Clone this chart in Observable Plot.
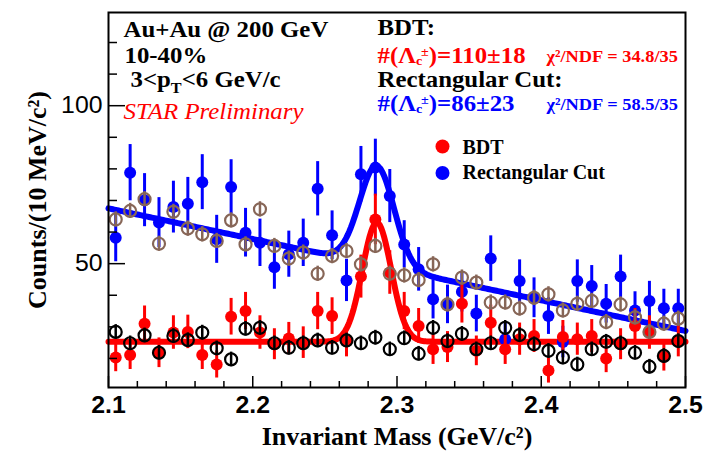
<!DOCTYPE html>
<html><head><meta charset="utf-8">
<script src="https://cdn.jsdelivr.net/npm/d3@7"></script>
<script src="https://cdn.jsdelivr.net/npm/@observablehq/plot@0.6"></script>
<style>body{margin:0;background:#fff}</style>
</head><body><div id="chart"></div>
<script>
// ---- data (bin centres, 10 MeV bins) ----
const mass = [2.105,2.115,2.125,2.135,2.145,2.155,2.165,2.175,2.185,2.195,
  2.205,2.215,2.225,2.235,2.245,2.255,2.265,2.275,2.285,2.295,
  2.305,2.315,2.325,2.335,2.345,2.355,2.365,2.375,2.385,2.395,
  2.405,2.415,2.425,2.435,2.445,2.455,2.465,2.475,2.485,2.495];
const bdtCounts = [20.3,21.1,31.0,21.8,28.2,28.4,21.1,18.1,33.2,35.0,28.2,24.5,26.3,25.0,35.0,33.4,25.5,45.9,64.0,47.2,
  35.0,30.3,22.9,23.6,37.3,22.4,31.3,22.9,26.1,27.1,16.2,26.8,26.1,27.1,20.0,24.5,30.3,28.2,20.5,25.5];
const bdtErr = [4.5,4.6,5.6,4.7,5.3,5.3,4.6,4.3,5.8,5.9,5.3,4.9,5.1,5.0,5.9,5.8,5.0,6.8,8.0,6.9,
  5.9,5.5,4.8,4.9,6.1,4.7,5.6,4.8,5.1,5.2,4.0,5.2,5.1,5.2,4.5,4.9,5.5,5.3,4.5,5.0];
const rectCounts = [58.2,78.8,70.1,63.0,67.9,69.0,75.8,57.7,74.3,59.8,56.6,48.9,53.0,56.6,73.7,59.0,44.7,78.3,80.4,71.4,
  56.1,48.2,38.7,37.1,41.1,34.2,51.6,26.1,44.5,39.2,33.4,25.2,44.5,42.9,37.3,45.9,35.2,38.2,35.9,35.9];
const rectErr = [7.6,8.9,8.4,7.9,8.2,8.3,8.7,7.6,8.6,7.7,7.5,7.0,7.3,7.5,8.6,7.7,6.7,8.8,9.0,8.4,
  7.5,6.9,6.2,6.1,6.4,5.8,7.2,5.1,6.7,6.3,5.8,5.0,6.7,6.5,6.1,6.8,5.9,6.2,6.0,6.0];
const rectBkgCounts = [64.0,66.7,70.4,56.3,66.4,61.1,59.3,57.2,63.7,56.1,67.2,55.6,51.6,53.5,46.8,52.4,54.0,49.8,55.6,46.8,
  46.3,44.8,49.8,37.1,45.6,44.0,37.7,37.7,35.8,39.2,40.3,35.2,37.3,38.2,31.5,37.1,33.0,28.4,31.0,32.6];
const rectBkgErr = 2.4;
const bdtBkgCounts = [28.4,24.8,27.3,21.8,27.1,25.8,28.2,23.2,19.7,29.4,29.7,24.8,23.4,24.8,25.7,23.4,25.7,24.8,26.6,22.9,
  26.4,21.5,29.7,25.5,27.8,22.9,24.8,29.7,27.4,24.5,22.4,20.3,18.1,22.9,25.3,24.8,21.8,17.4,20.8,25.5];
const bdtBkgErr = 2.3;

// fit parameters (gaussian + polynomial background)
const bdtFit = {base: 25.3, slope: 0, amp: 37.7, mu: 2.286, sigma: 0.0100};
const rectFit = {base: 67.5, slope: -97, amp: 31.5, mu: 2.286, sigma: 0.0120};

// axis ticks
const xMajor = [2.1,2.2,2.3,2.4,2.5];
const xMinor = [2.12,2.14,2.16,2.18,2.22,2.24,2.26,2.28,2.32,2.34,2.36,2.38,2.42,2.44,2.46,2.48];
const yMajor = [50,100];
const yMinor = [20,30,40,60,70,80,90,110,120];

const RED = "#ff0000", BLUE = "#0000ff", BROWN = "#876657";
const SERIF = "Liberation Serif", SANS = "Liberation Sans";
const ANN = 23;       // annotation font size
const ANN_SX = 1.08;  // horizontal stretch of annotation text (ROOT's wide Times rendering)

const pts = (counts, err) => mass.map((m,i)=>({m, v: counts[i], e: Array.isArray(err)? err[i] : err}));
const bdt = pts(bdtCounts, bdtErr), rect = pts(rectCounts, rectErr);
const rectBkg = pts(rectBkgCounts, rectBkgErr), bdtBkg = pts(bdtBkgCounts, bdtBkgErr);
const fitCurve = f => d3.range(2.1, 2.5001, 0.001).map(m => ({m,
  v: f.base + f.slope*(m-2.1) + f.amp*Math.exp(-0.5*((m-f.mu)/f.sigma)**2)}));

const W = 706, H = 452, ML = 108, MR = 21, MT = 12, MB = 65;
const PW = W-ML-MR, PH = H-MT-MB;

const txt = (s, x, y, o={}) => Plot.text([s], {text: d=>d, frameAnchor: "top-left", dx: x-ML, dy: y-MT,
  textAnchor: "start", lineAnchor: "bottom", fontFamily: SERIF, fontWeight: "bold", fontSize: ANN, fill: "black", ...o});

const errBars = (data, color, w) => Plot.ruleX(data, {x: "m", y1: d=>d.v-d.e, y2: d=>d.v+d.e, stroke: color, strokeWidth: w});

const chart = Plot.plot({
  width: W, height: H,
  marginLeft: ML, marginRight: MR, marginTop: MT, marginBottom: MB,
  style: {background: "#fff", overflow: "visible"},
  x: {domain: [2.1, 2.5], label: null},
  y: {domain: [10.8, 129.5], label: null},
  marks: [
    // fits
    Plot.line(fitCurve(rectFit), {x: "m", y: "v", stroke: BLUE, strokeWidth: 6}),
    Plot.line(fitCurve(bdtFit), {x: "m", y: "v", stroke: RED, strokeWidth: 6}),
    // filled points
    errBars(rect, BLUE, 3),
    Plot.dot(rect, {x: "m", y: "v", r: 6, fill: BLUE}),
    errBars(bdt, RED, 3),
    Plot.dot(bdt, {x: "m", y: "v", r: 6, fill: RED}),
    // open points
    errBars(rectBkg, BROWN, 2.5),
    Plot.dot(rectBkg, {x: "m", y: "v", r: 6, stroke: BROWN, strokeWidth: 2.2, fill: "none"}),
    errBars(bdtBkg, "black", 2.5),
    Plot.dot(bdtBkg, {x: "m", y: "v", r: 6, stroke: "black", strokeWidth: 2.2, fill: "none"}),
    // ticks (inside frame)
    Plot.ruleX(xMajor, {x: d=>d, insetTop: PH-11, stroke: "black", strokeWidth: 1.5}),
    Plot.ruleX(xMinor, {x: d=>d, insetTop: PH-6, stroke: "black", strokeWidth: 1.5}),
    Plot.ruleY(yMajor, {y: d=>d, insetRight: PW-17, stroke: "black", strokeWidth: 1.5}),
    Plot.ruleY(yMinor, {y: d=>d, insetRight: PW-9, stroke: "black", strokeWidth: 1.5}),
    Plot.frame({stroke: "black", strokeWidth: 2}),
    // tick labels
    Plot.axisX(xMajor, {tickSize: 0, tickPadding: 9, fontSize: 23, fontWeight: "bold", fontFamily: SANS,
      tickFormat: d=>d.toFixed(1), label: null}),
    Plot.axisY(yMajor, {tickSize: 0, tickPadding: 6, fontSize: 23, fontFamily: SANS, label: null}),
    // axis titles
    Plot.text(["Invariant Mass (GeV/c²)"], {text: d=>d, frameAnchor: "bottom", dy: 444-(H-MB), lineAnchor: "bottom",
      fontFamily: SERIF, fontWeight: "bold", fontSize: 26}),
    Plot.text(["Counts/(10 MeV/c²)"], {text: d=>d, frameAnchor: "left", dx: 45-ML, rotate: -90, lineAnchor: "bottom",
      textAnchor: "middle", fontFamily: SERIF, fontWeight: "bold", fontSize: 26}),
    // annotations
    txt("Au+Au @ 200 GeV", 123, 36),
    txt("10-40%", 124, 62),
    txt("3<pT<6 GeV/c", 130, 86),
    txt("STAR Preliminary", 123, 118, {fontWeight: "normal", fontStyle: "italic", fill: RED}),
    txt("BDT:", 377, 34),
    txt("#(Λc±)=110±18", 377, 62, {fill: RED}),
    txt("χ²/NDF = 34.8/35", 546, 61, {fill: RED, fontSize: 17}),
    txt("Rectangular Cut:", 377, 86),
    txt("#(Λc±)=86±23", 377, 110, {fill: BLUE}),
    txt("χ²/NDF = 58.5/35", 546, 109, {fill: BLUE, fontSize: 17}),
    // legend
    Plot.dot([0], {frameAnchor: "top-left", dx: 442-ML, dy: 146-MT, r: 7, fill: RED}),
    Plot.dot([0], {frameAnchor: "top-left", dx: 442-ML, dy: 172.5-MT, r: 7, fill: BLUE}),
    txt("BDT", 462, 153, {fontSize: 20}),
    txt("Rectangular Cut", 462, 178.5, {fontSize: 20})
  ]
});

// rich text (sub/superscripts)
function rich(raw, parts) {
  d3.select(chart).selectAll("text").filter(function(){ return this.textContent === raw; }).each(function(){
    const t = d3.select(this); t.text(null);
    for (const p of parts) {
      const s = t.append("tspan").text(p.t);
      if (p.dx) s.attr("dx", p.dx);
      if (p.dy) s.attr("dy", p.dy);
      if (p.fs) s.attr("font-size", p.fs);
    }
  });
}
rich("3<pT<6 GeV/c", [{t: "3<p"}, {t: "T", dy: 6, fs: 15}, {t: "<6 GeV/c", dy: -6}]);
for (const n of ["110±18", "86±23"]) {
  rich("#(Λc±)=" + n, [{t: "#(Λ"}, {t: "c", dy: 2, fs: 13}, {t: "±", dx: -1, dy: -9, fs: 13}, {t: ")=" + n, dy: 7}]);
}
// slight horizontal stretch of the annotation texts
d3.select(chart).selectAll(`g[font-size="${ANN}"] text, g[font-size="17"] text`).each(function(){
  const tr = this.getAttribute("transform") || "";
  this.setAttribute("transform", tr + ` scale(${ANN_SX},1)`);
});
document.getElementById("chart").append(chart);
</script>
</body></html>
